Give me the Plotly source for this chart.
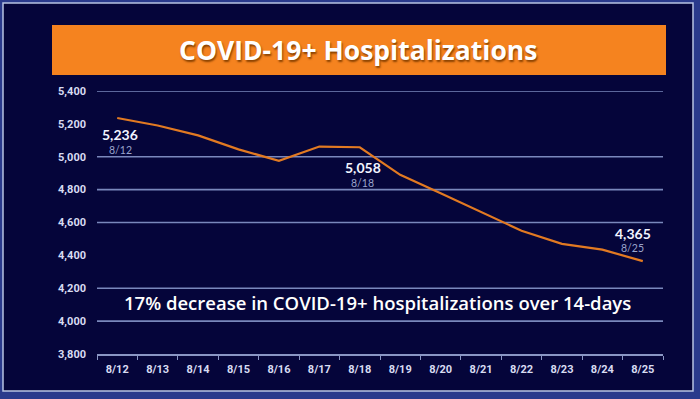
import plotly.graph_objects as go

dates = ["8/12", "8/13", "8/14", "8/15", "8/16", "8/17", "8/18",
         "8/19", "8/20", "8/21", "8/22", "8/23", "8/24", "8/25"]
hospitalizations = [5236, 5190, 5130, 5045, 4975, 5062, 5058,
                    4890, 4778, 4665, 4550, 4470, 4435, 4365]
y_ticks = [3800, 4000, 4200, 4400, 4600, 4800, 5000, 5200, 5400]
y_tick_labels = ["3,800", "4,000", "4,200", "4,400", "4,600", "4,800", "5,000", "5,200", "5,400"]
visible_gridlines = [5400, 5000, 4800, 4600, 4200, 4000]
labelled_points = [("8/12", 5236, "5,236"), ("8/18", 5058, "5,058"), ("8/25", 4365, "4,365")]
label_offsets = [(3, -17, -32), (3, -20, -36), (-10, 28, 13)]  # xshift, value yshift, date yshift
title_text = "COVID-19+ Hospitalizations"
note_text = "17% decrease in COVID-19+ hospitalizations over 14-days"

NAVY = "#05053a"
fig = go.Figure()
fig.add_trace(go.Scatter(x=dates, y=hospitalizations, mode="lines",
                         line=dict(color="#e27a22", width=2.2), hoverinfo="skip"))

shapes = [
    # frame
    dict(type="rect", xref="paper", yref="paper", x0=-94/566, x1=(693-97)/566,
         y0=-(391-354)/263, y1=(354-3)/263, line=dict(color="#b8c4e2", width=1.5),
         fillcolor=NAVY, layer="below"),
    # title box
    dict(type="rect", xref="paper", yref="paper", x0=(52-97)/566, x1=(666-97)/566,
         y0=(354-75)/263, y1=(354-25)/263, line=dict(width=0),
         fillcolor="#f5831f", layer="below"),
]
for g in visible_gridlines:
    shapes.append(dict(type="line", xref="paper", yref="y", x0=0, x1=1, y0=g, y1=g,
                       line=dict(color="#7a88bc", width=1.6), layer="below"))

annotations = [
    dict(text=f"<b>{title_text}</b>", xref="paper", yref="paper",
         x=(358-97)/566, y=(354-50)/263, xanchor="center", yanchor="middle", showarrow=False,
         font=dict(family="Open Sans", size=26.5, color="white", shadow="1px 2px 2px #8a4200")),
    dict(text=note_text, xref="x", yref="paper", x=6.45, y=(354-302)/263,
         xanchor="center", yanchor="middle", showarrow=False,
         font=dict(family="Open Sans", size=18.5, color="white", weight=600)),
]
for (d, v, lbl), (xs, ys1, ys2) in zip(labelled_points, label_offsets):
    annotations.append(dict(text=f"<b>{lbl}</b>", x=d, y=v, xref="x", yref="y",
                            showarrow=False, xshift=xs, yshift=ys1,
                            font=dict(family="Lato", size=14, color="#f2f4ff")))
    annotations.append(dict(text=d, x=d, y=v, xref="x", yref="y",
                            showarrow=False, xshift=xs, yshift=ys2,
                            font=dict(family="Lato", size=10.5, color="#9aa4cc")))

fig.update_layout(
    width=700, height=399,
    margin=dict(l=97, r=37, t=91, b=45),
    paper_bgcolor="#2a3a8c", plot_bgcolor=NAVY,
    showlegend=False,
    shapes=shapes, annotations=annotations,
    xaxis=dict(type="category", range=[-0.5, 13.5], showgrid=False,
               showline=True, linecolor="#8a96c4", linewidth=1.5,
               ticks="outside", tickson="boundaries", ticklen=4, tickcolor="#8a96c4",
               tickfont=dict(family="Liberation Sans Narrow, Roboto", size=11, color="#d8dcf2", weight=700),
               ticklabelstandoff=4, fixedrange=True),
    yaxis=dict(range=[3800, 5400], tickvals=y_ticks, ticktext=y_tick_labels,
               showgrid=False, zeroline=False, showline=False,
               tickfont=dict(family="Liberation Sans Narrow, Roboto", size=11, color="#d8dcf2", weight=700),
               ticklabelstandoff=10, fixedrange=True),
)
fig.write_html("out.html", config={"displayModeBar": False},
               post_script="document.body.style.margin='0';document.body.style.overflow='hidden';")
